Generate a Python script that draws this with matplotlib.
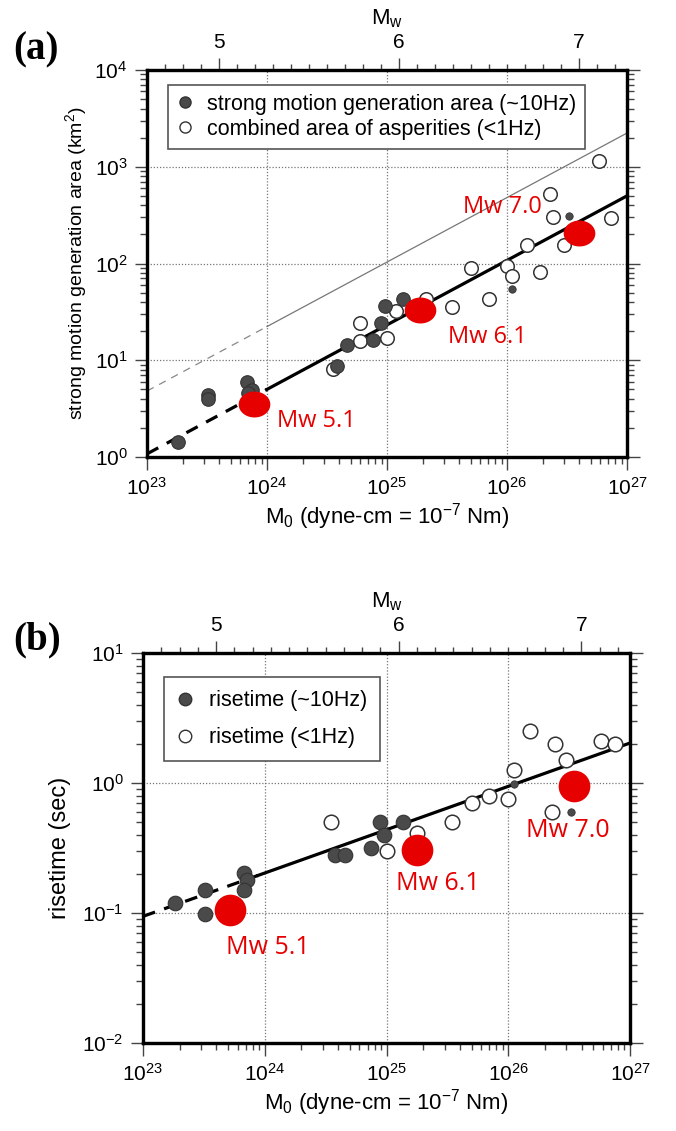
import numpy as np
import matplotlib
matplotlib.use('Agg')
import matplotlib.pyplot as plt
from matplotlib.path import Path
from matplotlib.lines import Line2D
from matplotlib.ticker import LogLocator, NullFormatter, FixedLocator

plt.rcParams['font.family'] = ['Liberation Sans', 'DejaVu Sans']
plt.rcParams['mathtext.default'] = 'regular'
plt.rcParams['axes.unicode_minus'] = False

# ---- (a) strong motion generation area vs M0 ----
smga_m0 = [1.8e23, 3.2e23, 3.2e23, 6.8e23, 7.5e23, 7.0e23, 3.8e24, 4.6e24,
           7.6e24, 8.9e24, 9.6e24, 1.37e25]
smga_area = [1.43, 4.4, 4.0, 5.9, 4.9, 4.6, 8.7, 14.4, 16.3, 24.2, 36, 43]
smga_small_m0 = [1.1e26, 3.3e26]
smga_small_area = [55, 310]

asp_m0 = [3.55e24, 6.0e24, 6.0e24, 1.0e25, 1.18e25, 2.1e25, 3.5e25, 5.0e25,
          7.1e25, 1.0e26, 1.1e26, 1.48e26, 1.9e26, 2.3e26, 2.4e26, 2.96e26,
          5.8e26, 7.4e26]
asp_area = [8.1, 24.2, 16.0, 16.9, 32, 43, 35.5, 90, 43, 94, 75, 157, 81,
            520, 305, 155, 1135, 296]

red_a_m0 = [7.8e23, 1.9e25, 4.0e26]
red_a_area = [3.5, 32.8, 205]
red_a_labels = ['Mw 5.1', 'Mw 6.1', 'Mw 7.0']

# ---- (b) risetime vs M0 ----
rise10_m0 = [1.82e23, 3.2e23, 3.2e23, 6.75e23, 7.2e23, 6.75e23, 3.76e24,
             4.6e24, 7.4e24, 8.9e24, 9.5e24, 1.37e25]
rise10_t = [0.119, 0.149, 0.099, 0.203, 0.178, 0.149, 0.278, 0.278, 0.316,
            0.50, 0.395, 0.50]
rise10_small_m0 = [1.12e26, 3.3e26]
rise10_small_t = [0.99, 0.60]

rise1_m0 = [3.5e24, 1.0e25, 1.78e25, 3.47e25, 5.0e25, 6.9e25, 1.0e26,
            1.12e26, 1.5e26, 2.3e26, 2.4e26, 3.0e26, 5.76e26, 7.6e26]
rise1_t = [0.50, 0.30, 0.41, 0.50, 0.70, 0.80, 0.75, 1.25, 2.53, 0.60, 2.01,
           1.51, 2.12, 2.01]

red_b_m0 = [5.2e23, 1.78e25, 3.5e26]
red_b_t = [0.106, 0.307, 0.94]
red_b_labels = ['Mw 5.1', 'Mw 6.1', 'Mw 7.0']

# scaling relations (dyne-cm)
smga_coef = 5.0e-16      # Sa = 5.0e-16 * M0^(2/3)
asp_coef = 2.23e-15      # Sa = 2.23e-15 * M0^(2/3)
rise_coef = 2.03e-9      # Tr = 2.03e-9 * M0^(1/3)

mw_ticks = [5, 6, 7]
mw_minor = np.round(np.arange(4.7, 7.25, 0.1), 1)

DARK = '#4a4a4a'
RED = '#e60000'


def mw_to_m0(mw):
    return 10 ** (1.5 * np.asarray(mw) + 16.1)


def style(ax):
    ax.set_xscale('log')
    ax.set_yscale('log')
    ax.set_xlim(1e23, 1e27)
    ax.grid(True, which='major', ls=(0, (1, 1.5)), color='#777777', lw=0.9)
    ax.set_axisbelow(True)
    for s in ax.spines.values():
        s.set_linewidth(2.3)
    ax.xaxis.set_major_locator(LogLocator(base=10, numticks=10))
    ax.xaxis.set_minor_locator(LogLocator(base=10, subs=np.arange(2, 10), numticks=20))
    ax.yaxis.set_major_locator(LogLocator(base=10, numticks=10))
    ax.yaxis.set_minor_locator(LogLocator(base=10, subs=np.arange(2, 10), numticks=20))
    ax.xaxis.set_minor_formatter(NullFormatter())
    ax.yaxis.set_minor_formatter(NullFormatter())
    ax.tick_params(which='both', direction='out', right=True, top=False,
                   labelsize=15, width=1, color='#444444')
    ax.tick_params(which='major', length=9, pad=5)
    ax.tick_params(which='minor', length=5)
    ax.set_xlabel('M$_0$ (dyne-cm = 10$^{-7}$ Nm)', fontsize=16, labelpad=2)

    top = ax.twiny()
    top.set_xscale('log')
    top.set_xlim(1e23, 1e27)
    top.set_xticks(mw_to_m0(mw_ticks), labels=[str(m) for m in mw_ticks])
    top.xaxis.set_minor_locator(FixedLocator(mw_to_m0(mw_minor)))
    top.xaxis.set_minor_formatter(NullFormatter())
    top.tick_params(which='both', direction='out', labelsize=15, width=1,
                    color='#444444')
    top.tick_params(which='major', length=9, pad=4)
    top.tick_params(which='minor', length=4)
    top.set_xlabel('M$_w$', fontsize=16, labelpad=6)
    for s in top.spines.values():
        s.set_linewidth(2.3)
    return top


fig = plt.figure(figsize=(6.76, 11.31), dpi=100)

# ellipse marker for red dots in (a)
th = np.linspace(0, 2 * np.pi, 60)
ellipse = Path(np.column_stack([1.22 * np.cos(th), np.sin(th)]))

# ================= panel (a) =================
ax = fig.add_axes([147 / 676, 1 - 457 / 1131, 480 / 676, 387 / 1131])
style(ax)
ax.set_ylim(1, 1e4)
ax.set_ylabel('strong motion generation area (km$^2$)', fontsize=14,
              labelpad=4)

x_dash = np.array([1e23, 1e24])
x_solid = np.array([1e24, 1e27])
ax.plot(x_dash, asp_coef * x_dash ** (2 / 3), ls=(0, (6, 5)), color='#888888', lw=0.9, zorder=2)
ax.plot(x_solid, asp_coef * x_solid ** (2 / 3), color='#777777', lw=0.9, zorder=2)
ax.plot(x_dash, smga_coef * x_dash ** (2 / 3), ls=(0, (4, 3)), color='black', lw=2.3, zorder=2)
ax.plot(x_solid, smga_coef * x_solid ** (2 / 3), color='black', lw=2.3, zorder=2)

ax.scatter(asp_m0, asp_area, s=95, facecolor='white', edgecolor='#333333', lw=1.1, zorder=3)
ax.scatter(smga_m0, smga_area, s=95, facecolor=DARK, edgecolor='#333333', lw=0.8, zorder=3)
ax.scatter(smga_small_m0, smga_small_area, s=28, facecolor=DARK, edgecolor='#333333', lw=0.6, zorder=3)
ax.scatter(red_a_m0, red_a_area, s=520, marker=ellipse, color=RED, lw=0, zorder=4)

offs_a = [(45, -12), (48, -19), (-55, 19)]
for xm, ym, lab, off in zip(red_a_m0, red_a_area, red_a_labels, offs_a):
    ax.annotate(lab, (xm, ym), xytext=off, textcoords='offset points',
                ha='center', va='center', color=RED, fontsize=17,
                family=['Open Sans', 'DejaVu Sans'], zorder=5)

h_a = [Line2D([], [], ls='none', marker='o', ms=8, mfc=DARK, mec='#333333'),
       Line2D([], [], ls='none', marker='o', ms=8, mfc='white', mec='#333333')]
leg = ax.legend(h_a, ['strong motion generation area (~10Hz)',
                      'combined area of asperities (<1Hz)'],
                loc='upper left', bbox_to_anchor=(0.044, 0.961), borderaxespad=0,
                fontsize=15.5, fancybox=False, framealpha=1, edgecolor='#555555',
                handlelength=0.8, handletextpad=0.6, labelspacing=0.2,
                borderpad=0.4)
leg.get_frame().set_linewidth(1.2)

# ================= panel (b) =================
bx = fig.add_axes([143 / 676, 1 - 1043 / 1131, 487 / 676, 390 / 1131])
style(bx)
bx.set_ylim(1e-2, 1e1)
bx.set_ylabel('risetime (sec)', fontsize=17, labelpad=8)

xb_dash = np.array([1e23, 8.8e23])
xb_solid = np.array([8.8e23, 1e27])
bx.plot(xb_dash, rise_coef * xb_dash ** (1 / 3), ls=(0, (4, 3)), color='black', lw=2.3, zorder=2)
bx.plot(xb_solid, rise_coef * xb_solid ** (1 / 3), color='black', lw=2.3, zorder=2)

bx.scatter(rise1_m0, rise1_t, s=110, facecolor='white', edgecolor='#333333', lw=1.1, zorder=3)
bx.scatter(rise10_m0, rise10_t, s=110, facecolor=DARK, edgecolor='#333333', lw=0.8, zorder=3)
bx.scatter(rise10_small_m0, rise10_small_t, s=28, facecolor=DARK, edgecolor='#333333', lw=0.6, zorder=3)
bx.scatter(red_b_m0, red_b_t, s=520, marker='o', color=RED, lw=0, zorder=4)

offs_b = [(27, -27), (15, -24), (-5, -32)]
for xm, ym, lab, off in zip(red_b_m0, red_b_t, red_b_labels, offs_b):
    bx.annotate(lab, (xm, ym), xytext=off, textcoords='offset points',
                ha='center', va='center', color=RED, fontsize=18,
                family=['Open Sans', 'DejaVu Sans'], zorder=5)

h_b = [Line2D([], [], ls='none', marker='o', ms=9, mfc=DARK, mec='#333333'),
       Line2D([], [], ls='none', marker='o', ms=9, mfc='white', mec='#333333')]
leg = bx.legend(h_b, ['risetime (~10Hz)', 'risetime (<1Hz)'],
                loc='upper left', bbox_to_anchor=(0.043, 0.938), borderaxespad=0,
                fontsize=15.5, fancybox=False, framealpha=1, edgecolor='#555555',
                handlelength=0.8, handletextpad=0.7, labelspacing=0.75,
                borderpad=0.6)
leg.get_frame().set_linewidth(1.2)

fig.text(13 / 676, 1 - 50 / 1131, '(a)', fontsize=28, fontweight='bold',
         family=['Liberation Serif', 'DejaVu Serif'], va='center')
fig.text(13 / 676, 1 - 640 / 1131, '(b)', fontsize=28, fontweight='bold',
         family=['Liberation Serif', 'DejaVu Serif'], va='center')

fig.savefig('out.png', dpi=100)
